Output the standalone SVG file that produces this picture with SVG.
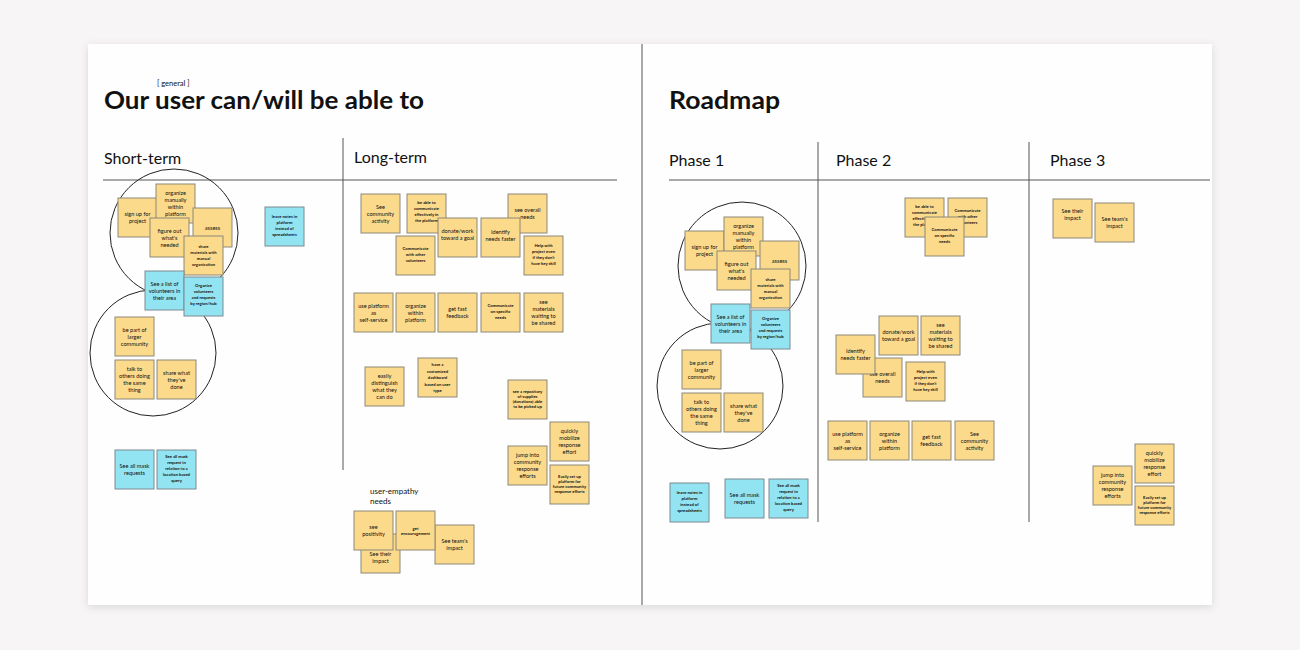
<svg xmlns="http://www.w3.org/2000/svg" width="1300" height="650" viewBox="0 0 1300 650">
<defs>
<filter id="sh" x="-5%" y="-5%" width="110%" height="110%"><feDropShadow dx="0" dy="2" stdDeviation="4" flood-color="#000" flood-opacity="0.12"/></filter>
</defs>
<style>
.y{fill:#fcda8c;stroke:#8c8878;stroke-width:1}
.b{fill:#92e4f3;stroke:#7a8a90;stroke-width:1}
.t{font-family:Lato,"Liberation Sans",sans-serif;font-size:5.6px;fill:#111;text-anchor:middle}
.s{font-family:Lato,"Liberation Sans",sans-serif;font-size:4.2px;font-weight:bold;fill:#111;text-anchor:middle}
.h{font-family:Lato,"Liberation Sans",sans-serif;font-size:16px;fill:#111}
.ttl{font-family:Lato,"Liberation Sans",sans-serif;font-size:24px;font-weight:bold;fill:#111}
.ln{stroke:#555;stroke-width:1;fill:none}
.c{stroke:#222;stroke-width:1;fill:none}
</style>
<rect width="1300" height="650" fill="#f7f5f6"/>
<rect x="88" y="44" width="1124" height="561" fill="#fefefe" filter="url(#sh)"/>
<g id="frame">
<line class="ln" x1="642" y1="44" x2="642" y2="605"/>
<line class="ln" x1="103" y1="180" x2="617" y2="180"/>
<line class="ln" x1="669" y1="180" x2="1210" y2="180"/>
<line class="ln" x1="343" y1="138" x2="343" y2="470"/>
<line class="ln" x1="818" y1="142" x2="818" y2="522"/>
<line class="ln" x1="1029" y1="142" x2="1029" y2="522"/>
<text x="157" y="86" font-family="Lato,'Liberation Sans',sans-serif" font-size="7.5" fill="#111">[ general ]</text>
<text x="104" y="109" class="ttl" textLength="320" lengthAdjust="spacingAndGlyphs">Our user can/will be able to</text>
<text x="669" y="109" class="ttl" textLength="111" lengthAdjust="spacingAndGlyphs">Roadmap</text>
<text x="104" y="164" class="h">Short-term</text>
<text x="354" y="163" class="h">Long-term</text>
<text x="669" y="166" class="h">Phase 1</text>
<text x="836" y="166" class="h">Phase 2</text>
<text x="1050" y="166" class="h">Phase 3</text>
<text x="370" y="494" font-family="Lato,'Liberation Sans',sans-serif" font-size="8" fill="#111">user-empathy</text>
<text x="370" y="504" font-family="Lato,'Liberation Sans',sans-serif" font-size="8" fill="#111">needs</text>
</g>
<g id="circles">
<circle class="c" cx="174" cy="233" r="64"/>
<circle class="c" cx="153" cy="353" r="63"/>
<circle class="c" cx="742" cy="266" r="64"/>
<circle class="c" cx="720" cy="386" r="63"/>
</g>
<g id="notes-short">
<g id="n1" transform="translate(118,198)"><rect class="y" width="39" height="39"/><text class="t"><tspan x="19.5" y="18">sign up for</tspan><tspan x="19.5" dy="7">project</tspan></text></g>
<g id="n2" transform="translate(156,184)"><rect class="y" width="39" height="39"/><text class="t"><tspan x="19.5" y="11">organize</tspan><tspan x="19.5" dy="7">manually</tspan><tspan x="19.5" dy="7">within</tspan><tspan x="19.5" dy="7">platform</tspan></text></g>
<g id="n3" transform="translate(193,208)"><rect class="y" width="39" height="39"/><text class="t"><tspan x="19.5" y="21.5">assess</tspan></text></g>
<g id="n4" transform="translate(150,218)"><rect class="y" width="39" height="39"/><text class="t"><tspan x="19.5" y="14.5">figure out</tspan><tspan x="19.5" dy="7">what's</tspan><tspan x="19.5" dy="7">needed</tspan></text></g>
<g id="n5" transform="translate(184,236)"><rect class="y" width="39" height="39"/><text class="s"><tspan x="19.5" y="12">share</tspan><tspan x="19.5" dy="6">materials with</tspan><tspan x="19.5" dy="6">manual</tspan><tspan x="19.5" dy="6">organization</tspan></text></g>
<g id="n6" transform="translate(145,271)"><rect class="b" width="39" height="39"/><text class="t"><tspan x="19.5" y="14.5">See a list of</tspan><tspan x="19.5" dy="7">volunteers in</tspan><tspan x="19.5" dy="7">their area</tspan></text></g>
<g id="n7" transform="translate(184,277)"><rect class="b" width="39" height="39"/><text class="s"><tspan x="19.5" y="10">Organize</tspan><tspan x="19.5" dy="6">volunteers</tspan><tspan x="19.5" dy="6">and requests</tspan><tspan x="19.5" dy="6">by region/hub</tspan></text></g>
<g id="n8" transform="translate(265,207)"><rect class="b" width="39" height="39"/><text class="s"><tspan x="19.5" y="11">leave notes in</tspan><tspan x="19.5" dy="6">platform</tspan><tspan x="19.5" dy="6">instead of</tspan><tspan x="19.5" dy="6">spreadsheets</tspan></text></g>
<g id="n9" transform="translate(115,317)"><rect class="y" width="39" height="39"/><text class="t"><tspan x="19.5" y="14.5">be part of</tspan><tspan x="19.5" dy="7">larger</tspan><tspan x="19.5" dy="7">community</tspan></text></g>
<g id="n10" transform="translate(115,360)"><rect class="y" width="39" height="39"/><text class="t"><tspan x="19.5" y="11">talk to</tspan><tspan x="19.5" dy="7">others doing</tspan><tspan x="19.5" dy="7">the same</tspan><tspan x="19.5" dy="7">thing</tspan></text></g>
<g id="n11" transform="translate(157,360)"><rect class="y" width="39" height="39"/><text class="t"><tspan x="19.5" y="14.5">share what</tspan><tspan x="19.5" dy="7">they've</tspan><tspan x="19.5" dy="7">done</tspan></text></g>
<g id="n12" transform="translate(115,450)"><rect class="b" width="39" height="39"/><text class="t"><tspan x="19.5" y="18">See all mask</tspan><tspan x="19.5" dy="7">requests</tspan></text></g>
<g id="n13" transform="translate(157,450)"><rect class="b" width="39" height="39"/><text class="s"><tspan x="19.5" y="8">See all mask</tspan><tspan x="19.5" dy="6">request in</tspan><tspan x="19.5" dy="6">relation to a</tspan><tspan x="19.5" dy="6">location based</tspan><tspan x="19.5" dy="6">query</tspan></text></g>
</g>
<g id="notes-long">
<g id="l1" transform="translate(361,194)"><rect class="y" width="39" height="39"/><text class="t"><tspan x="19.5" y="14.5">See</tspan><tspan x="19.5" dy="7">community</tspan><tspan x="19.5" dy="7">activity</tspan></text></g>
<g id="l2" transform="translate(407,194)"><rect class="y" width="39" height="39"/><text class="s"><tspan x="19.5" y="10">be able to</tspan><tspan x="19.5" dy="6">communicate</tspan><tspan x="19.5" dy="6">effectively in</tspan><tspan x="19.5" dy="6">the platform</tspan></text></g>
<g id="l3" transform="translate(508,194)"><rect class="y" width="39" height="39"/><text class="t"><tspan x="19.5" y="18">see overall</tspan><tspan x="19.5" dy="7">needs</tspan></text></g>
<g id="l4" transform="translate(438,218)"><rect class="y" width="39" height="39"/><text class="t"><tspan x="19.5" y="15">donate/work</tspan><tspan x="19.5" dy="7">toward a goal</tspan></text></g>
<g id="l5" transform="translate(481,218)"><rect class="y" width="39" height="39"/><text class="t"><tspan x="19.5" y="16">Identify</tspan><tspan x="19.5" dy="7">needs faster</tspan></text></g>
<g id="l6" transform="translate(396,236)"><rect class="y" width="39" height="39"/><text class="s"><tspan x="19.5" y="14">Communicate</tspan><tspan x="19.5" dy="6">with other</tspan><tspan x="19.5" dy="6">volunteers</tspan></text></g>
<g id="l7" transform="translate(524,236)"><rect class="y" width="39" height="39"/><text class="s"><tspan x="19.5" y="11">Help with</tspan><tspan x="19.5" dy="6">project even</tspan><tspan x="19.5" dy="6">if they don't</tspan><tspan x="19.5" dy="6">have key skill</tspan></text></g>
<g id="l8" transform="translate(354,293)"><rect class="y" width="39" height="39"/><text class="t"><tspan x="19.5" y="14.5">use platform</tspan><tspan x="19.5" dy="7">as</tspan><tspan x="19.5" dy="7">self-service</tspan></text></g>
<g id="l9" transform="translate(396,293)"><rect class="y" width="39" height="39"/><text class="t"><tspan x="19.5" y="14.5">organize</tspan><tspan x="19.5" dy="7">within</tspan><tspan x="19.5" dy="7">platform</tspan></text></g>
<g id="l10" transform="translate(438,293)"><rect class="y" width="39" height="39"/><text class="t"><tspan x="19.5" y="18">get fast</tspan><tspan x="19.5" dy="7">feedback</tspan></text></g>
<g id="l11" transform="translate(481,293)"><rect class="y" width="39" height="39"/><text class="s"><tspan x="19.5" y="14">Communicate</tspan><tspan x="19.5" dy="6">on specific</tspan><tspan x="19.5" dy="6">needs</tspan></text></g>
<g id="l12" transform="translate(524,293)"><rect class="y" width="39" height="39"/><text class="t"><tspan x="19.5" y="11">see</tspan><tspan x="19.5" dy="7">materials</tspan><tspan x="19.5" dy="7">waiting to</tspan><tspan x="19.5" dy="7">be shared</tspan></text></g>
<g id="l13" transform="translate(365,367)"><rect class="y" width="39" height="39"/><text class="t"><tspan x="19.5" y="11">easily</tspan><tspan x="19.5" dy="7">distinguish</tspan><tspan x="19.5" dy="7">what they</tspan><tspan x="19.5" dy="7">can do</tspan></text></g>
<g id="l14" transform="translate(418,358)"><rect class="y" width="39" height="39"/><text class="s"><tspan x="19.5" y="8">have a</tspan><tspan x="19.5" dy="6.5">customized</tspan><tspan x="19.5" dy="6.5">dashboard</tspan><tspan x="19.5" dy="6.5">based on user</tspan><tspan x="19.5" dy="6.5">type</tspan></text></g>
<g id="l15" transform="translate(508,380)"><rect class="y" width="39" height="39"/><text class="s" font-size="3.5"><tspan x="19.5" y="13">see a repository</tspan><tspan x="19.5" dy="5">of supplies</tspan><tspan x="19.5" dy="5">(donations) able</tspan><tspan x="19.5" dy="5">to be picked up</tspan></text></g>
<g id="l16" transform="translate(550,422)"><rect class="y" width="39" height="39"/><text class="t"><tspan x="19.5" y="11">quickly</tspan><tspan x="19.5" dy="7">mobilize</tspan><tspan x="19.5" dy="7">response</tspan><tspan x="19.5" dy="7">effort</tspan></text></g>
<g id="l17" transform="translate(508,446)"><rect class="y" width="39" height="39"/><text class="t"><tspan x="19.5" y="11">jump into</tspan><tspan x="19.5" dy="7">community</tspan><tspan x="19.5" dy="7">response</tspan><tspan x="19.5" dy="7">efforts</tspan></text></g>
<g id="l18" transform="translate(550,465)"><rect class="y" width="39" height="39"/><text class="s" font-size="3.5"><tspan x="19.5" y="13">Easily set up</tspan><tspan x="19.5" dy="5">platform for</tspan><tspan x="19.5" dy="5">future community</tspan><tspan x="19.5" dy="5">response efforts</tspan></text></g>
<g id="l19" transform="translate(361,534)"><rect class="y" width="39" height="39"/><text class="t"><tspan x="19.5" y="22">See their</tspan><tspan x="19.5" dy="7">impact</tspan></text></g>
<g id="l20" transform="translate(354,511)"><rect class="y" width="39" height="39"/><text class="t"><tspan x="19.5" y="18">see</tspan><tspan x="19.5" dy="7">positivity</tspan></text></g>
<g id="l21" transform="translate(435,525)"><rect class="y" width="39" height="39"/><text class="t"><tspan x="19.5" y="18">See team's</tspan><tspan x="19.5" dy="7">impact</tspan></text></g>
<g id="l22" transform="translate(396,511)"><rect class="y" width="39" height="39"/><text class="s" font-size="3.5"><tspan x="19.5" y="19">get</tspan><tspan x="19.5" dy="5">encouragement</tspan></text></g>
</g>
<g id="notes-phase1">
<g id="p1" transform="translate(685,231)"><rect class="y" width="39" height="39"/><text class="t"><tspan x="19.5" y="18">sign up for</tspan><tspan x="19.5" dy="7">project</tspan></text></g>
<g id="p2" transform="translate(724,217)"><rect class="y" width="39" height="39"/><text class="t"><tspan x="19.5" y="11">organize</tspan><tspan x="19.5" dy="7">manually</tspan><tspan x="19.5" dy="7">within</tspan><tspan x="19.5" dy="7">platform</tspan></text></g>
<g id="p3" transform="translate(760,241)"><rect class="y" width="39" height="39"/><text class="t"><tspan x="19.5" y="21.5">assess</tspan></text></g>
<g id="p4" transform="translate(717,251)"><rect class="y" width="39" height="39"/><text class="t"><tspan x="19.5" y="14.5">figure out</tspan><tspan x="19.5" dy="7">what's</tspan><tspan x="19.5" dy="7">needed</tspan></text></g>
<g id="p5" transform="translate(751,269)"><rect class="y" width="39" height="39"/><text class="s"><tspan x="19.5" y="12">share</tspan><tspan x="19.5" dy="6">materials with</tspan><tspan x="19.5" dy="6">manual</tspan><tspan x="19.5" dy="6">organization</tspan></text></g>
<g id="p6" transform="translate(711,304)"><rect class="b" width="39" height="39"/><text class="t"><tspan x="19.5" y="14.5">See a list of</tspan><tspan x="19.5" dy="7">volunteers in</tspan><tspan x="19.5" dy="7">their area</tspan></text></g>
<g id="p7" transform="translate(751,310)"><rect class="b" width="39" height="39"/><text class="s"><tspan x="19.5" y="10">Organize</tspan><tspan x="19.5" dy="6">volunteers</tspan><tspan x="19.5" dy="6">and requests</tspan><tspan x="19.5" dy="6">by region/hub</tspan></text></g>
<g id="p8" transform="translate(682,350)"><rect class="y" width="39" height="39"/><text class="t"><tspan x="19.5" y="14.5">be part of</tspan><tspan x="19.5" dy="7">larger</tspan><tspan x="19.5" dy="7">community</tspan></text></g>
<g id="p9" transform="translate(682,393)"><rect class="y" width="39" height="39"/><text class="t"><tspan x="19.5" y="11">talk to</tspan><tspan x="19.5" dy="7">others doing</tspan><tspan x="19.5" dy="7">the same</tspan><tspan x="19.5" dy="7">thing</tspan></text></g>
<g id="p10" transform="translate(724,393)"><rect class="y" width="39" height="39"/><text class="t"><tspan x="19.5" y="14.5">share what</tspan><tspan x="19.5" dy="7">they've</tspan><tspan x="19.5" dy="7">done</tspan></text></g>
<g id="p11" transform="translate(670,483)"><rect class="b" width="39" height="39"/><text class="s"><tspan x="19.5" y="11">leave notes in</tspan><tspan x="19.5" dy="6">platform</tspan><tspan x="19.5" dy="6">instead of</tspan><tspan x="19.5" dy="6">spreadsheets</tspan></text></g>
<g id="p12" transform="translate(725,479)"><rect class="b" width="39" height="39"/><text class="t"><tspan x="19.5" y="18">See all mask</tspan><tspan x="19.5" dy="7">requests</tspan></text></g>
<g id="p13" transform="translate(769,479)"><rect class="b" width="39" height="39"/><text class="s"><tspan x="19.5" y="8">See all mask</tspan><tspan x="19.5" dy="6">request in</tspan><tspan x="19.5" dy="6">relation to a</tspan><tspan x="19.5" dy="6">location based</tspan><tspan x="19.5" dy="6">query</tspan></text></g>
</g>
<g id="notes-phase2">
<g id="q1" transform="translate(905,198)"><rect class="y" width="39" height="39"/><text class="s"><tspan x="19.5" y="10">be able to</tspan><tspan x="19.5" dy="6">communicate</tspan><tspan x="19.5" dy="6">effectively in</tspan><tspan x="19.5" dy="6">the platform</tspan></text></g>
<g id="q2" transform="translate(948,198)"><rect class="y" width="39" height="39"/><text class="s"><tspan x="19.5" y="14">Communicate</tspan><tspan x="19.5" dy="6">with other</tspan><tspan x="19.5" dy="6">volunteers</tspan></text></g>
<g id="q3" transform="translate(925,217)"><rect class="y" width="39" height="39"/><text class="s"><tspan x="19.5" y="14">Communicate</tspan><tspan x="19.5" dy="6">on specific</tspan><tspan x="19.5" dy="6">needs</tspan></text></g>
<g id="q4" transform="translate(879,316)"><rect class="y" width="39" height="39"/><text class="t"><tspan x="19.5" y="18">donate/work</tspan><tspan x="19.5" dy="7">toward a goal</tspan></text></g>
<g id="q5" transform="translate(921,316)"><rect class="y" width="39" height="39"/><text class="t"><tspan x="19.5" y="11">see</tspan><tspan x="19.5" dy="7">materials</tspan><tspan x="19.5" dy="7">waiting to</tspan><tspan x="19.5" dy="7">be shared</tspan></text></g>
<g id="q6" transform="translate(863,358)"><rect class="y" width="39" height="39"/><text class="t"><tspan x="19.5" y="18">see overall</tspan><tspan x="19.5" dy="7">needs</tspan></text></g>
<g id="q7" transform="translate(836,335)"><rect class="y" width="39" height="39"/><text class="t"><tspan x="19.5" y="18">Identify</tspan><tspan x="19.5" dy="7">needs faster</tspan></text></g>
<g id="q8" transform="translate(906,362)"><rect class="y" width="39" height="39"/><text class="s"><tspan x="19.5" y="11">Help with</tspan><tspan x="19.5" dy="6">project even</tspan><tspan x="19.5" dy="6">if they don't</tspan><tspan x="19.5" dy="6">have key skill</tspan></text></g>
<g id="q9" transform="translate(828,421)"><rect class="y" width="39" height="39"/><text class="t"><tspan x="19.5" y="14.5">use platform</tspan><tspan x="19.5" dy="7">as</tspan><tspan x="19.5" dy="7">self-service</tspan></text></g>
<g id="q10" transform="translate(870,421)"><rect class="y" width="39" height="39"/><text class="t"><tspan x="19.5" y="14.5">organize</tspan><tspan x="19.5" dy="7">within</tspan><tspan x="19.5" dy="7">platform</tspan></text></g>
<g id="q11" transform="translate(912,421)"><rect class="y" width="39" height="39"/><text class="t"><tspan x="19.5" y="18">get fast</tspan><tspan x="19.5" dy="7">feedback</tspan></text></g>
<g id="q12" transform="translate(955,421)"><rect class="y" width="39" height="39"/><text class="t"><tspan x="19.5" y="14.5">See</tspan><tspan x="19.5" dy="7">community</tspan><tspan x="19.5" dy="7">activity</tspan></text></g>
</g>
<g id="notes-phase3">
<g id="r1" transform="translate(1053,199)"><rect class="y" width="39" height="39"/><text class="t"><tspan x="19.5" y="14">See their</tspan><tspan x="19.5" dy="7">impact</tspan></text></g>
<g id="r2" transform="translate(1095,203)"><rect class="y" width="39" height="39"/><text class="t"><tspan x="19.5" y="18">See team's</tspan><tspan x="19.5" dy="7">impact</tspan></text></g>
<g id="r3" transform="translate(1135,444)"><rect class="y" width="39" height="39"/><text class="t"><tspan x="19.5" y="11">quickly</tspan><tspan x="19.5" dy="7">mobilize</tspan><tspan x="19.5" dy="7">response</tspan><tspan x="19.5" dy="7">effort</tspan></text></g>
<g id="r4" transform="translate(1093,466)"><rect class="y" width="39" height="39"/><text class="t"><tspan x="19.5" y="11">jump into</tspan><tspan x="19.5" dy="7">community</tspan><tspan x="19.5" dy="7">response</tspan><tspan x="19.5" dy="7">efforts</tspan></text></g>
<g id="r5" transform="translate(1135,486)"><rect class="y" width="39" height="39"/><text class="s" font-size="3.5"><tspan x="19.5" y="13">Easily set up</tspan><tspan x="19.5" dy="5">platform for</tspan><tspan x="19.5" dy="5">future community</tspan><tspan x="19.5" dy="5">response efforts</tspan></text></g>
</g>
<g id="connectors"/>
</svg>
